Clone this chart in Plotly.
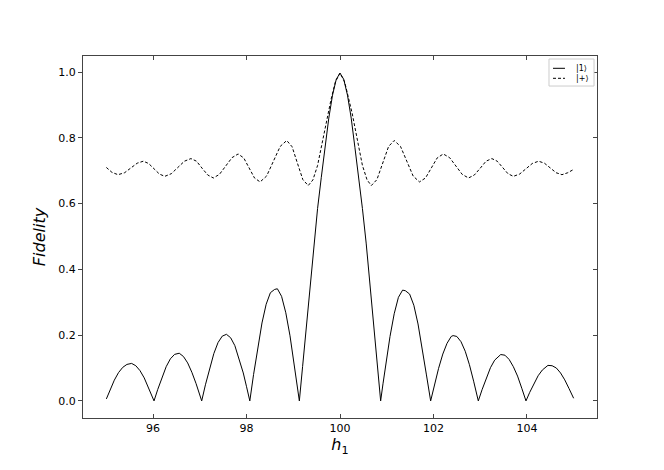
import plotly.graph_objects as go

# Solid curve |1>
h1_solid = [95.00, 95.08, 95.17, 95.26, 95.35, 95.44, 95.54, 95.63, 95.72, 95.81, 95.90, 95.96, 96.02,
            96.10, 96.19, 96.28, 96.37, 96.46, 96.56, 96.65, 96.74, 96.83, 96.92, 96.98, 97.04,
            97.12, 97.21, 97.30, 97.39, 97.48, 97.57, 97.66, 97.75, 97.84, 97.93, 98.00, 98.07,
            98.15, 98.24, 98.33, 98.42, 98.51, 98.60, 98.66, 98.75, 98.84, 98.93, 99.02, 99.08, 99.13,
            99.20, 99.28, 99.36, 99.44, 99.52, 99.60, 99.68, 99.76, 99.84, 99.92, 100.00,
            100.08, 100.16, 100.24, 100.32, 100.40, 100.48, 100.56, 100.64, 100.72, 100.80, 100.87,
            100.92, 100.98, 101.07, 101.16, 101.25, 101.34, 101.40, 101.49, 101.58, 101.67, 101.76, 101.85, 101.94,
            102.02, 102.11, 102.20, 102.29, 102.38, 102.42, 102.50, 102.59, 102.68, 102.77, 102.86, 102.96,
            103.04, 103.13, 103.22, 103.31, 103.44, 103.53, 103.62, 103.71, 103.80, 103.89, 103.98,
            104.06, 104.15, 104.24, 104.33, 104.45, 104.54, 104.63, 104.72, 104.81, 104.90, 105.00]
fid_one = [0.006, 0.035, 0.063, 0.086, 0.102, 0.111, 0.114, 0.107, 0.092, 0.070, 0.042, 0.022, 0.0,
           0.035, 0.0725, 0.104, 0.128, 0.1415, 0.145, 0.135, 0.1155, 0.087, 0.0525, 0.027, 0.0,
           0.049, 0.100, 0.144, 0.1775, 0.197, 0.2025, 0.192, 0.168, 0.130, 0.085, 0.043, 0.0,
           0.080, 0.164, 0.237, 0.294, 0.329, 0.339, 0.341, 0.318, 0.268, 0.198, 0.115, 0.053, 0.0,
           0.105, 0.23, 0.355, 0.48, 0.585, 0.68, 0.77, 0.86, 0.93, 0.978, 0.997,
           0.978, 0.93, 0.86, 0.77, 0.68, 0.585, 0.48, 0.355, 0.23, 0.105, 0.0,
           0.052, 0.113, 0.196, 0.265, 0.315, 0.337, 0.335, 0.325, 0.291, 0.234, 0.162, 0.079, 0.0,
           0.048, 0.099, 0.1425, 0.175, 0.196, 0.1986, 0.196, 0.180, 0.151, 0.110, 0.060, 0.0,
           0.034, 0.0705, 0.101, 0.124, 0.141, 0.139, 0.126, 0.104, 0.0755, 0.0385, 0.0,
           0.026, 0.053, 0.0765, 0.094, 0.108, 0.107, 0.100, 0.085, 0.064, 0.038, 0.008]

# Dashed curve |+>
h1_dash = [95.00, 95.12, 95.25, 95.39, 95.52, 95.66, 95.79, 95.905, 96.02, 96.135, 96.25,
           96.39, 96.53, 96.67, 96.81, 96.93, 97.05, 97.17, 97.29, 97.42, 97.555, 97.69, 97.82,
           97.94, 98.055, 98.17, 98.29, 98.43, 98.575, 98.72, 98.86, 98.975, 99.09, 99.205, 99.32,
           99.42, 99.52, 99.60, 99.66, 99.74, 99.81, 99.90, 100.00,
           100.10, 100.19, 100.26, 100.34, 100.40, 100.48, 100.58, 100.67,
           100.79, 100.915, 101.04, 101.16, 101.295, 101.43, 101.565, 101.70,
           101.83, 101.955, 102.08, 102.21, 102.345, 102.48, 102.615, 102.75,
           102.875, 103.00, 103.125, 103.25, 103.365, 103.48, 103.595, 103.71,
           103.845, 103.98, 104.115, 104.25, 104.375, 104.50, 104.625, 104.75, 104.875, 105.00]
fid_plus = [0.710, 0.695, 0.688, 0.694, 0.708, 0.723, 0.729, 0.722, 0.706, 0.690, 0.683,
            0.691, 0.710, 0.729, 0.737, 0.729, 0.7075, 0.687, 0.678, 0.689, 0.7145, 0.740, 0.751,
            0.739, 0.7085, 0.678, 0.666, 0.684, 0.729, 0.774, 0.792, 0.773, 0.7225, 0.673, 0.655,
            0.672, 0.716, 0.770, 0.817, 0.875, 0.918, 0.970, 0.997,
            0.970, 0.918, 0.875, 0.817, 0.770, 0.716, 0.672, 0.655,
            0.673, 0.7235, 0.774, 0.792, 0.774, 0.729, 0.684, 0.666,
            0.678, 0.7085, 0.739, 0.751, 0.740, 0.7145, 0.689, 0.678,
            0.687, 0.7075, 0.729, 0.737, 0.729, 0.710, 0.691, 0.683,
            0.690, 0.706, 0.722, 0.729, 0.723, 0.7085, 0.694, 0.688, 0.694, 0.704]

series_names = ["|1⟩", "|+⟩"]
x_ticks = [96, 98, 100, 102, 104]
y_ticks = [0.0, 0.2, 0.4, 0.6, 0.8, 1.0]
y_range = [-0.052, 1.049]

fig = go.Figure()
fig.add_trace(go.Scatter(x=h1_solid, y=fid_one, mode="lines", name=series_names[0],
                         line=dict(color="black", width=1)))
fig.add_trace(go.Scatter(x=h1_dash, y=fid_plus, mode="lines", name=series_names[1],
                         line=dict(color="black", width=1, dash="3px,2px")))
fig.add_trace(go.Scatter(x=[100], y=[0.5], mode="markers", yaxis="y2", showlegend=False,
                         marker=dict(opacity=0), hoverinfo="skip"))

axis_col = "#444444"

# small legend box (matplotlib-style) drawn in paper coordinates
shapes = [
    dict(type="rect", xref="paper", yref="paper", x0=0.9066, x1=0.9942, y0=0.917, y1=0.9917,
         line=dict(color="#cccccc", width=1), fillcolor="white", layer="above"),
    dict(type="line", xref="paper", yref="paper", x0=0.9144, x1=0.9377, y0=0.966, y1=0.966,
         line=dict(color="black", width=1), layer="above"),
    dict(type="line", xref="paper", yref="paper", x0=0.9144, x1=0.9377, y0=0.9384, y1=0.9384,
         line=dict(color="black", width=1, dash="3px,2px"), layer="above"),
]
annotations = [
    dict(text=series_names[0], xref="paper", yref="paper", x=0.955, y=0.966,
         xanchor="left", yanchor="middle", showarrow=False, font=dict(size=8)),
    dict(text=series_names[1], xref="paper", yref="paper", x=0.955, y=0.9384,
         xanchor="left", yanchor="middle", showarrow=False, font=dict(size=8)),
]

fig.update_layout(
    width=664, height=470,
    margin=dict(l=75, r=75, t=48, b=60),
    paper_bgcolor="white", plot_bgcolor="white",
    font=dict(family="DejaVu Sans", size=11, color="black"),
    showlegend=False,
    shapes=shapes,
    annotations=annotations,
    xaxis=dict(range=[94.5, 105.5], tickvals=x_ticks, ticktext=[str(v) for v in x_ticks],
               ticks="inside", ticklen=4, tickcolor=axis_col, mirror="ticks",
               showline=True, linecolor=axis_col, linewidth=1, showgrid=False, zeroline=False,
               title=dict(text="<i>h</i><sub>1</sub>", font=dict(size=16), standoff=4)),
    yaxis=dict(range=y_range, tickvals=y_ticks, ticktext=["%.1f" % v for v in y_ticks],
               ticks="outside", ticklen=4, tickcolor=axis_col, mirror=True,
               showline=True, linecolor=axis_col, linewidth=1, showgrid=False, zeroline=False,
               title=dict(text="<i>Fidelity</i>", font=dict(size=16), standoff=8)),
    yaxis2=dict(range=y_range, tickvals=y_ticks, overlaying="y", side="right",
                ticks="inside", ticklen=4, tickcolor=axis_col, showticklabels=False,
                showline=False, showgrid=False, zeroline=False),
)

fig.write_html("out.html")
